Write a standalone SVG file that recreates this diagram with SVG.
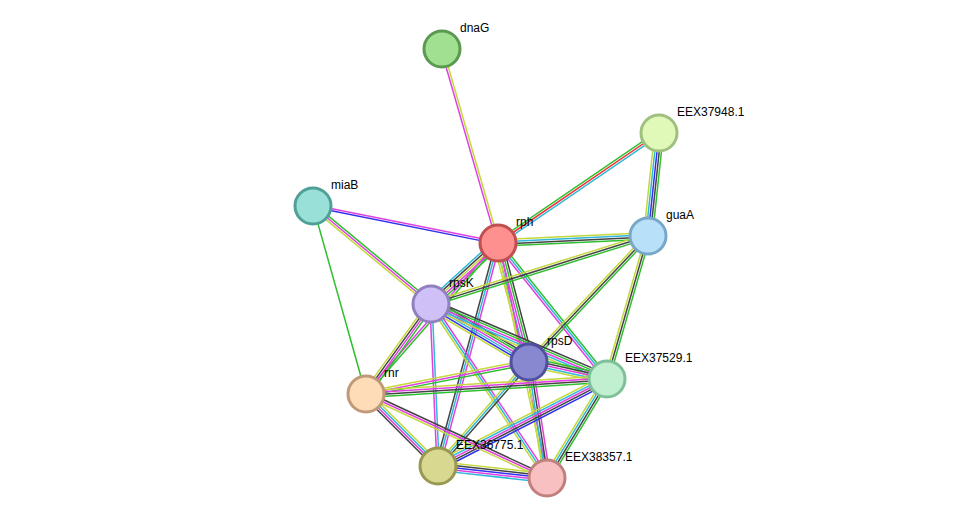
<svg xmlns="http://www.w3.org/2000/svg" width="976" height="524" viewBox="0 0 976 524">
<style>
#edges line{fill:none;stroke-width:1.5}
.g{stroke:#2fbf2f}.y{stroke:#c3d83a}.m{stroke:#e040e0}.c{stroke:#30b8d8}.k{stroke:#444}.b{stroke:#3030f0}.r{stroke:#f03030}
.n{stroke-width:3}
text{font-family:"Liberation Sans",Arial,sans-serif;font-size:12px;fill:#000}
</style>
<rect width="976" height="524" fill="#fff"/>
<g id="edges">
<g transform="translate(442,49) rotate(73.9)"><line x2="202" y1="-1.1" y2="-1.1" class="y"/><line x2="202" y1="1.1" y2="1.1" class="m"/></g>
<g transform="translate(659,133) rotate(145.7)"><line x2="195" y1="-2.2" y2="-2.2" class="c"/><line x2="195" class="r"/><line x2="195" y1="2.2" y2="2.2" class="g"/></g>
<g transform="translate(659,133) rotate(96.1)"><line x2="104" y1="-4.4" y2="-4.4" class="g"/><line x2="104" y1="-2.2" y2="-2.2" class="k"/><line x2="104" class="b"/><line x2="104" y1="2.2" y2="2.2" class="c"/><line x2="104" y1="4.4" y2="4.4" class="y"/></g>
<g transform="translate(313,206) rotate(11.3)"><line x2="189" y1="-1.1" y2="-1.1" class="m"/><line x2="189" y1="1.1" y2="1.1" class="b"/></g>
<g transform="translate(313,206) rotate(39.7)"><line x2="153" y1="-2.2" y2="-2.2" class="g"/><line x2="153" class="m"/><line x2="153" y1="2.2" y2="2.2" class="y"/></g>
<g transform="translate(313,206) rotate(74.3)"><line x2="195" class="g"/></g>
<g transform="translate(498,243) rotate(-2.7)"><line x2="150" y1="-3.3" y2="-3.3" class="y"/><line x2="150" y1="-1.1" y2="-1.1" class="c"/><line x2="150" y1="1.1" y2="1.1" class="k"/><line x2="150" y1="3.3" y2="3.3" class="g"/></g>
<g transform="translate(498,243) rotate(137.7)"><line x2="91" y1="-4.4" y2="-4.4" class="g"/><line x2="91" y1="-2.2" y2="-2.2" class="m"/><line x2="91" class="y"/><line x2="91" y1="2.2" y2="2.2" class="k"/><line x2="91" y1="4.4" y2="4.4" class="c"/></g>
<g transform="translate(498,243) rotate(75.4)"><line x2="123" y1="-4.4" y2="-4.4" class="k"/><line x2="123" y1="-2.2" y2="-2.2" class="g"/><line x2="123" class="m"/><line x2="123" y1="2.2" y2="2.2" class="c"/><line x2="123" y1="4.4" y2="4.4" class="y"/></g>
<g transform="translate(498,243) rotate(51.3)"><line x2="174" y1="-2.2" y2="-2.2" class="g"/><line x2="174" class="c"/><line x2="174" y1="2.2" y2="2.2" class="m"/></g>
<g transform="translate(498,243) rotate(131.2)"><line x2="201" y1="-1.1" y2="-1.1" class="g"/><line x2="201" y1="1.1" y2="1.1" class="m"/></g>
<g transform="translate(498,243) rotate(105.1)"><line x2="231" y1="-2.2" y2="-2.2" class="m"/><line x2="231" class="c"/><line x2="231" y1="2.2" y2="2.2" class="k"/></g>
<g transform="translate(498,243) rotate(78.2)"><line x2="240" y1="-1.1" y2="-1.1" class="m"/><line x2="240" y1="1.1" y2="1.1" class="y"/></g>
<g transform="translate(648,236) rotate(162.6)"><line x2="227" y1="-2.2" y2="-2.2" class="g"/><line x2="227" class="k"/><line x2="227" y1="2.2" y2="2.2" class="y"/></g>
<g transform="translate(648,236) rotate(133.4)"><line x2="173" y1="-2.2" y2="-2.2" class="g"/><line x2="173" class="k"/><line x2="173" y1="2.2" y2="2.2" class="y"/></g>
<g transform="translate(648,236) rotate(106)"><line x2="149" y1="-2.2" y2="-2.2" class="g"/><line x2="149" class="k"/><line x2="149" y1="2.2" y2="2.2" class="y"/></g>
<g transform="translate(431,304) rotate(30.6)"><line x2="114" y1="-5.5" y2="-5.5" class="k"/><line x2="114" y1="-3.3" y2="-3.3" class="g"/><line x2="114" y1="-1.1" y2="-1.1" class="m"/><line x2="114" y1="1.1" y2="1.1" class="c"/><line x2="114" y1="3.3" y2="3.3" class="b"/><line x2="114" y1="5.5" y2="5.5" class="y"/></g>
<g transform="translate(431,304) rotate(23.1)"><line x2="191" y1="-4.4" y2="-4.4" class="k"/><line x2="191" y1="-2.2" y2="-2.2" class="g"/><line x2="191" class="m"/><line x2="191" y1="2.2" y2="2.2" class="c"/><line x2="191" y1="4.4" y2="4.4" class="y"/></g>
<g transform="translate(431,304) rotate(125.8)"><line x2="111" y1="-3.3" y2="-3.3" class="g"/><line x2="111" y1="-1.1" y2="-1.1" class="m"/><line x2="111" y1="1.1" y2="1.1" class="k"/><line x2="111" y1="3.3" y2="3.3" class="y"/></g>
<g transform="translate(431,304) rotate(87.5)"><line x2="162" y1="-1.1" y2="-1.1" class="c"/><line x2="162" y1="1.1" y2="1.1" class="m"/></g>
<g transform="translate(431,304) rotate(56.3)"><line x2="209" y1="-2.2" y2="-2.2" class="m"/><line x2="209" class="c"/><line x2="209" y1="2.2" y2="2.2" class="y"/></g>
<g transform="translate(529,362) rotate(12.3)"><line x2="80" y1="-4.4" y2="-4.4" class="g"/><line x2="80" y1="-2.2" y2="-2.2" class="k"/><line x2="80" class="m"/><line x2="80" y1="2.2" y2="2.2" class="c"/><line x2="80" y1="4.4" y2="4.4" class="y"/></g>
<g transform="translate(529,362) rotate(168.9)"><line x2="166" y1="-2.2" y2="-2.2" class="g"/><line x2="166" class="m"/><line x2="166" y1="2.2" y2="2.2" class="y"/></g>
<g transform="translate(529,362) rotate(131.2)"><line x2="138" y1="-2.2" y2="-2.2" class="k"/><line x2="138" class="c"/><line x2="138" y1="2.2" y2="2.2" class="y"/></g>
<g transform="translate(529,362) rotate(81.2)"><line x2="117" y1="-3.3" y2="-3.3" class="m"/><line x2="117" y1="-1.1" y2="-1.1" class="k"/><line x2="117" y1="1.1" y2="1.1" class="c"/><line x2="117" y1="3.3" y2="3.3" class="y"/></g>
<g transform="translate(607,379) rotate(176.4)"><line x2="241" y1="-3.3" y2="-3.3" class="g"/><line x2="241" y1="-1.1" y2="-1.1" class="k"/><line x2="241" y1="1.1" y2="1.1" class="m"/><line x2="241" y1="3.3" y2="3.3" class="y"/></g>
<g transform="translate(607,379) rotate(152.8)"><line x2="190" y1="-4.4" y2="-4.4" class="b"/><line x2="190" y1="-2.2" y2="-2.2" class="k"/><line x2="190" class="m"/><line x2="190" y1="2.2" y2="2.2" class="c"/><line x2="190" y1="4.4" y2="4.4" class="y"/></g>
<g transform="translate(607,379) rotate(121.2)"><line x2="116" y1="-3.3" y2="-3.3" class="g"/><line x2="116" y1="-1.1" y2="-1.1" class="k"/><line x2="116" y1="1.1" y2="1.1" class="c"/><line x2="116" y1="3.3" y2="3.3" class="y"/></g>
<g transform="translate(366,394) rotate(45)"><line x2="102" y1="-3.3" y2="-3.3" class="y"/><line x2="102" y1="-1.1" y2="-1.1" class="c"/><line x2="102" y1="1.1" y2="1.1" class="m"/><line x2="102" y1="3.3" y2="3.3" class="k"/></g>
<g transform="translate(366,394) rotate(24.9)"><line x2="200" y1="-2.2" y2="-2.2" class="k"/><line x2="200" class="m"/><line x2="200" y1="2.2" y2="2.2" class="y"/></g>
<g transform="translate(438,466) rotate(6.3)"><line x2="110" y1="-4.4" y2="-4.4" class="y"/><line x2="110" y1="-2.2" y2="-2.2" class="k"/><line x2="110" class="b"/><line x2="110" y1="2.2" y2="2.2" class="m"/><line x2="110" y1="4.4" y2="4.4" class="c"/></g>
</g>
<g id="dnaG"><circle cx="442" cy="49" r="18" class="n" fill="#a0e090" stroke="#5a9a50"/><text x="460" y="32">dnaG</text></g>
<g id="EEX37948.1"><circle cx="659" cy="133" r="18" class="n" fill="#e0f8b8" stroke="#a0c080"/><text x="677" y="116">EEX37948.1</text></g>
<g id="miaB"><circle cx="313" cy="206" r="18" class="n" fill="#98e0d8" stroke="#50a098"/><text x="331" y="189">miaB</text></g>
<g id="rph"><circle cx="498" cy="243" r="18" class="n" fill="#ff9090" stroke="#c05050"/><text x="516" y="226">rph</text></g>
<g id="guaA"><circle cx="648" cy="236" r="18" class="n" fill="#b8e0f8" stroke="#78a8c8"/><text x="666" y="219">guaA</text></g>
<g id="rpsK"><circle cx="431" cy="304" r="18" class="n" fill="#d0c0f8" stroke="#9080c0"/><text x="449" y="287">rpsK</text></g>
<g id="rpsD"><circle cx="529" cy="362" r="18" class="n" fill="#8888d0" stroke="#5050a0"/><text x="547" y="345">rpsD</text></g>
<g id="EEX37529.1"><circle cx="607" cy="379" r="18" class="n" fill="#c0f0d0" stroke="#80c098"/><text x="625" y="362">EEX37529.1</text></g>
<g id="rnr"><circle cx="366" cy="394" r="18" class="n" fill="#ffdcb8" stroke="#c09a78"/><text x="384" y="377">rnr</text></g>
<g id="EEX36775.1"><circle cx="438" cy="466" r="18" class="n" fill="#d8d890" stroke="#989850"/><text x="456" y="449">EEX36775.1</text></g>
<g id="EEX38357.1"><circle cx="547" cy="478" r="18" class="n" fill="#f8c0c0" stroke="#c08080"/><text x="565" y="461">EEX38357.1</text></g>
</svg>
